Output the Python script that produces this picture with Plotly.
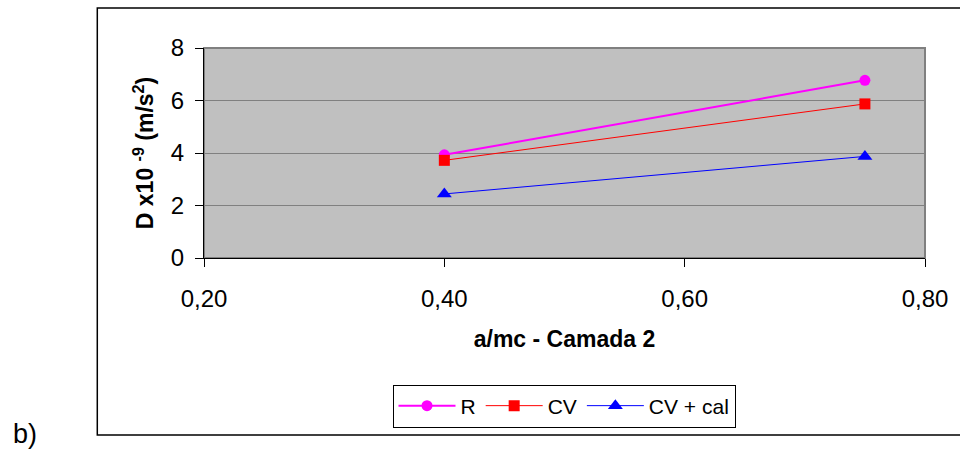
import plotly.graph_objects as go

x_vals = [0.40, 0.75]
r_vals = [3.93, 6.77]
cv_vals = [3.72, 5.87]
cvcal_vals = [2.44, 3.87]
series_names = ["R", "CV", "CV + cal"]

FONT = "Liberation Sans, Arial, sans-serif"

fig = go.Figure()
fig.add_trace(go.Scatter(x=x_vals, y=r_vals, name=series_names[0], mode="lines+markers",
                         line=dict(color="#FF00FF", width=2),
                         marker=dict(symbol="circle", size=11, color="#FF00FF")))
fig.add_trace(go.Scatter(x=x_vals, y=cv_vals, name=series_names[1], mode="lines+markers",
                         line=dict(color="#FF0000", width=1),
                         marker=dict(symbol="square", size=11, color="#FF0000")))
fig.add_trace(go.Scatter(x=x_vals, y=cvcal_vals, name=series_names[2], mode="lines+markers",
                         line=dict(color="#0000FF", width=1),
                         marker=dict(symbol="triangle-up", size=13, color="#0000FF")))

L, R, T, B = 204, 33, 48, 196
W, H = 960, 454
pw, ph = W - L - R, H - T - B

def px(xp):
    return (xp - L) / pw

def py(yp):
    return (H - B - yp) / ph

fig.update_layout(
    width=W, height=H,
    margin=dict(l=L, r=R, t=T, b=B, pad=0),
    paper_bgcolor="white",
    plot_bgcolor="#C0C0C0",
    separators=",.",
    font=dict(family=FONT, color="black", size=24),
    showlegend=True,
    legend=dict(orientation="h", x=px(565), xanchor="center", y=py(406), yanchor="middle",
                bordercolor="black", borderwidth=1, bgcolor="white",
                font=dict(size=21, family=FONT), itemwidth=57,
                tracegroupgap=0),
    xaxis=dict(range=[0.2, 0.8], tickvals=[0.2, 0.4, 0.6, 0.8], tickformat=".2f",
               showgrid=False, zeroline=False, showline=True, linecolor="black", linewidth=1,
               ticks="outside", ticklen=8, tickcolor="black", ticklabelstandoff=11,
               tickfont=dict(size=24, family=FONT),
               title=dict(text="<b>a/mc - Camada 2</b>", font=dict(size=23, family=FONT), standoff=20)),
    yaxis=dict(range=[0, 8], tickvals=[0, 2, 4, 6, 8],
               showgrid=True, gridcolor="#808080", gridwidth=1,
               zeroline=False, showline=True, linecolor="black", linewidth=1,
               ticks="outside", ticklen=8, tickcolor="black", ticklabelstandoff=6,
               tickfont=dict(size=24, family=FONT),
               title=dict(text="<b>D x10 <sup>-9</sup> (m/s<sup>2</sup>)</b>", font=dict(size=23, family=FONT), standoff=10)),
    shapes=[
        dict(type="rect", xref="paper", yref="paper", x0=0, x1=1, y0=0, y1=1,
             line=dict(color="#808080", width=2), layer="below"),
        dict(type="rect", xref="paper", yref="paper", x0=px(97), x1=px(975), y0=py(435), y1=py(8),
             line=dict(color="black", width=1.5), fillcolor="rgba(0,0,0,0)", layer="below"),
    ],
    annotations=[
        dict(text="b)", xref="paper", yref="paper", x=px(25), y=py(434),
             xanchor="center", yanchor="middle", showarrow=False,
             font=dict(size=27, family=FONT)),
    ],
)

fig.write_html("out.html")
